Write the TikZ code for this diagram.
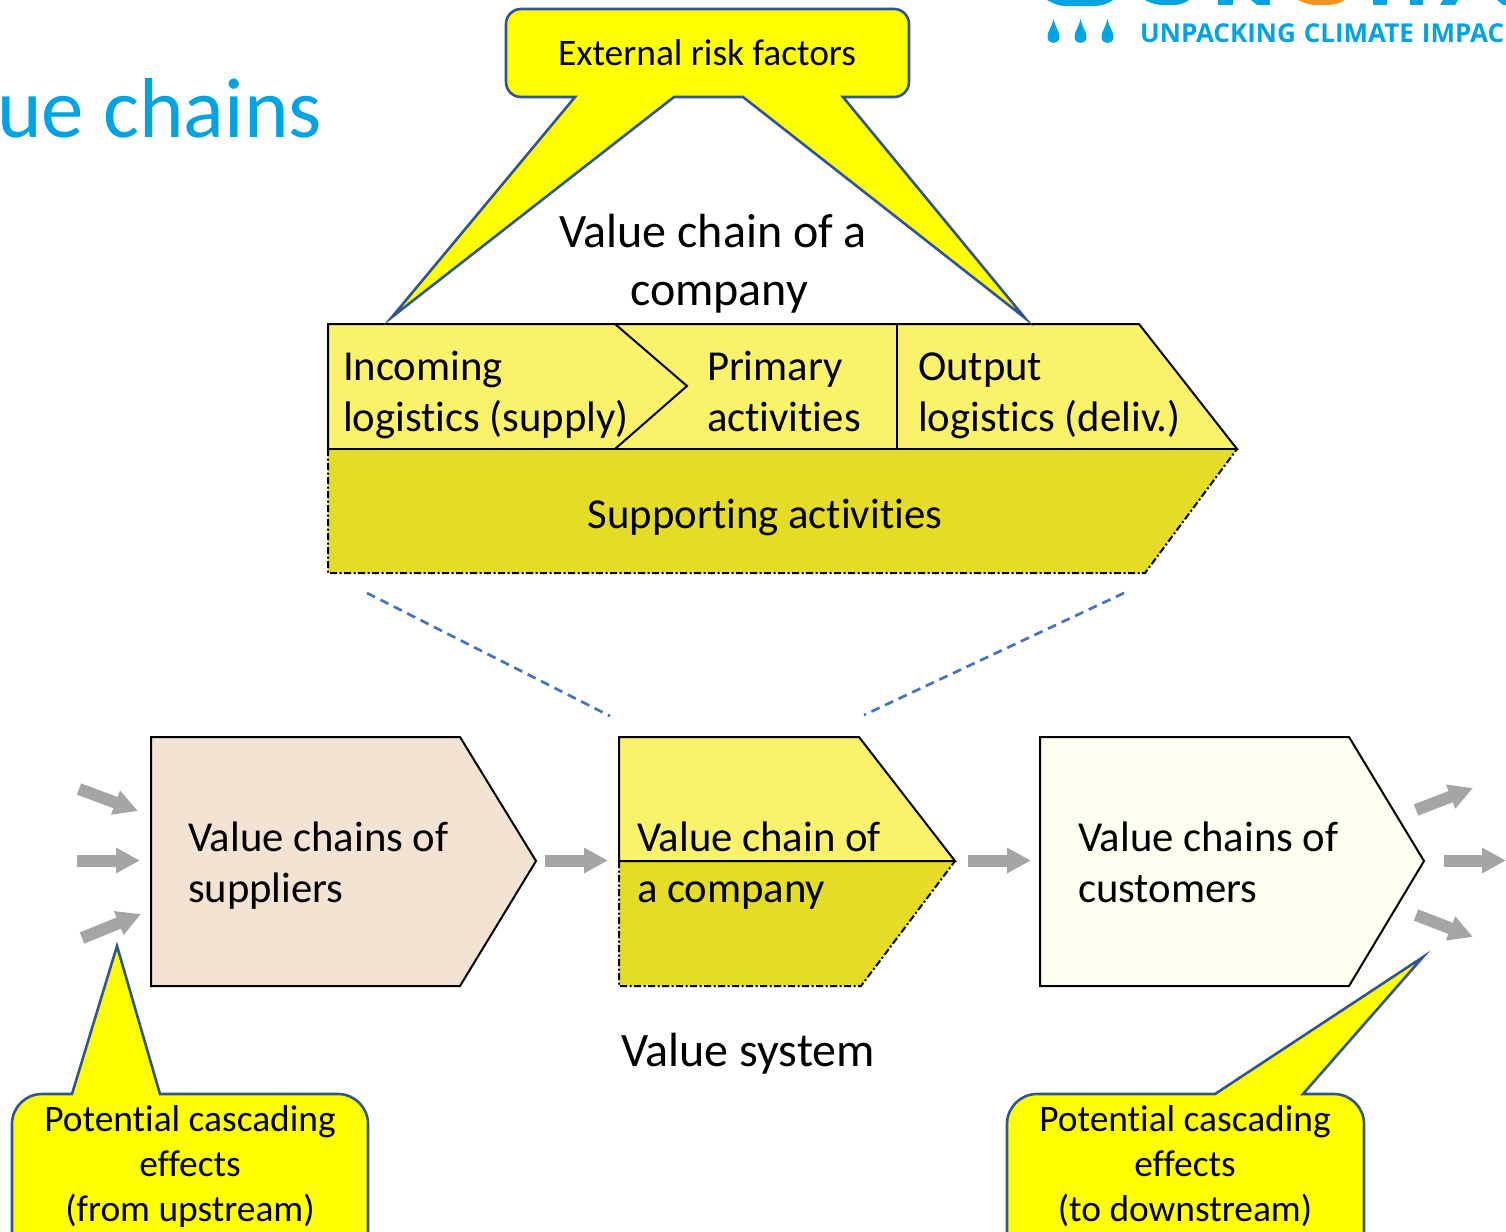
\documentclass[tikz,border=0pt]{standalone}
\usepackage{fontspec}
\setmainfont[Ligatures=NoCommon]{Carlito}
\newfontfamily\logofont{Open Sans}
\usetikzlibrary{arrows.meta}
\definecolor{lightgold}{HTML}{FBF26C}
\definecolor{darkgold}{HTML}{E4DC27}
\definecolor{sandfill}{HTML}{F3E3D3}
\definecolor{ivoryfill}{HTML}{FFFFF0}
\definecolor{calloutblue}{HTML}{2F5597}
\definecolor{calloutyellow}{RGB}{255,255,0}
\definecolor{dashblue}{HTML}{4472C4}
\definecolor{skyblue}{HTML}{00A3E4}
\definecolor{logoorange}{HTML}{F7941D}
\definecolor{arrowgray}{HTML}{A5A5A5}
\tikzset{
  x=1pt,y=-1pt,
  txt/.style={inner sep=0pt,outer sep=0pt,text=black},
  body/.style={txt,align=left,anchor=base west,font=\fontsize{42.7}{51}\selectfont},
  large/.style={txt,align=center,anchor=base,font=\fontsize{48}{58}\selectfont},
  small/.style={txt,align=center,anchor=base,font=\fontsize{37.4}{45}\selectfont},
  shapeline/.style={draw=black,line width=2pt,line join=miter},
  dashdot/.style={draw=black,line width=2pt,dash pattern=on 7pt off 2.5pt on 2pt off 2.5pt},
  callout/.style={fill=calloutyellow,draw=calloutblue,line width=2.6pt,line join=miter},
  flow/.style={draw=arrowgray,line width=12pt,-{Triangle[length=24pt,width=24pt]}},
  guide/.style={draw=dashblue,line width=2.7pt,dash pattern=on 9pt off 6pt},
  logoblue/.style={fill=skyblue,draw=none},
}
\begin{document}
\begin{tikzpicture}
\useasboundingbox (0,0) rectangle (1506,1231);
\clip (0,0) rectangle (1506,1231);
\fill[white] (0,0) rectangle (1506,1231);

% logo fragments
\fill[logoblue] (1047,0) .. controls (1056,5) and (1060,6) .. (1068,6) -- (1092,6) .. controls (1100,6) and (1106,5) .. (1113,0) -- cycle;
\fill[logoblue] (1145,0) .. controls (1152,4) and (1158,5) .. (1164,5) -- (1172,5) .. controls (1178,5) and (1184,4) .. (1189,0) -- cycle;
\fill[logoblue] (1218,0) rectangle (1233,5);
\fill[logoblue] (1251,0) -- (1257,5) -- (1270,5) -- (1270,0) -- cycle;
\fill[logoorange] (1298,0) .. controls (1305,4) and (1312,5) .. (1318,5) -- (1326,5) .. controls (1332,5) and (1339,4) .. (1345,0) -- cycle;
\fill[logoblue] (1373,0) rectangle (1387,5);
\fill[logoblue] (1410,0) rectangle (1423,5);
\fill[logoblue] (1443,0) -- (1440,5) -- (1455,5) -- (1458,0) -- cycle;
\fill[logoblue] (1497,0) -- (1503,5) -- (1506,5) -- (1506,0) -- cycle;
\foreach \dx in {1053.5,1080.5,1107.5}{
  \fill[logoblue] (\dx,19) .. controls (\dx+1,26) and (\dx+6,31) .. (\dx+6,37) .. controls (\dx+6,45) and (\dx-6,45) .. (\dx-6,37) .. controls (\dx-6,31) and (\dx-1,26) .. (\dx,19) -- cycle;
}
\node[inner sep=0pt,anchor=base west,text=skyblue,font=\logofont\bfseries\fontsize{26}{30}\selectfont] (logotext) at (1140,43) {\spaceskip=8pt UNPACKING CLIMATE IMPAC};

% title
\node[inner sep=0pt,anchor=base west,text=skyblue,font=\fontsize{85}{90}\selectfont] (title) at (-3,137) {ue chains};

% value chain of a company, upper part
\path[fill=lightgold] (328,324) -- (1139,324) -- (1237,449) -- (328,449) -- cycle;
\draw[shapeline] (328,449) -- (328,324) -- (1139,324) -- (1237,449) -- cycle;
\draw[shapeline] (615,324) -- (687,386) -- (615,449);
\draw[shapeline] (897,324) -- (897,449);
\path[fill=darkgold] (328,449) -- (1237,449) -- (1145,573) -- (328,573) -- cycle;
\draw[dashdot] (328,449) -- (328,573) -- (1145,573) -- (1237,449);
\draw[shapeline] (328,449) -- (1237,449);

\node[body] (incoming) at (343,431) {Incoming\\logistics (supply)};
\node[body] (primary) at (707,431) {Primary\\activities};
\node[body] (output) at (918,431) {Output\\logistics (deliv.)};
\node[txt,anchor=base,font=\fontsize{42.7}{51}\selectfont] (support) at (765,528) {Supporting activities};
\node[large] (vcc) at (713,305) {Value chain of a\\\hspace*{12pt}company};

% external risk callout
\path[callout] (521,9) -- (894,9) arc[start angle=-90,end angle=0,radius=15]
  -- (909,82) arc[start angle=0,end angle=90,radius=15]
  -- (843,97) -- (1025,318) -- (743,97) -- (674,97) -- (392,317) -- (575,97)
  -- (521,97) arc[start angle=90,end angle=180,radius=15]
  -- (506,24) arc[start angle=180,end angle=270,radius=15] -- cycle;
\node[small] (external) at (707,66) {External risk factors};

% zoom guides
\coordinate (guideLa) at (367,593);
\coordinate (guideLb) at (610,716);
\coordinate (guideRa) at (1124,593);
\coordinate (guideRb) at (864,715);
\draw[guide] (guideLa) -- (guideLb);
\draw[guide] (guideRa) -- (guideRb);

% value system
\draw[shapeline,fill=sandfill] (151,737) -- (460,737) -- (536,861) -- (460,986) -- (151,986) -- cycle;
\node[body] (suppliers) at (188,902) {Value chains of\\suppliers};

\path[fill=lightgold] (619,737) -- (859,737) -- (955,861) -- (619,861) -- cycle;
\path[fill=darkgold] (619,861) -- (955,861) -- (861,986) -- (619,986) -- cycle;
\draw[shapeline] (619,861) -- (619,737) -- (859,737) -- (955,861) -- cycle;
\draw[dashdot] (619,861) -- (619,986) -- (861,986) -- (955,861);
\node[body] (company) at (637,902) {Value chain of\\a company};

\draw[shapeline,fill=ivoryfill] (1040,737) -- (1349,737) -- (1424,861) -- (1349,986) -- (1040,986) -- cycle;
\node[body] (customers) at (1078,902) {Value chains of\\customers};

\node[large] (system) at (748,1066) {Value system};

% flow arrows
\coordinate (inAa) at (79,789);   \coordinate (inAb) at (138,811);
\coordinate (inBa) at (77,860.5); \coordinate (inBb) at (140,860.5);
\coordinate (inCa) at (82,938);   \coordinate (inCb) at (141,914);
\coordinate (outAa) at (1416,810); \coordinate (outAb) at (1473,788);
\coordinate (outBa) at (1444,860.5); \coordinate (outBb) at (1506,860.5);
\coordinate (outCa) at (1416,915); \coordinate (outCb) at (1473,937);
\draw[flow] (inAa) -- (inAb);
\draw[flow] (inBa) -- (inBb);
\draw[flow] (inCa) -- (inCb);
\draw[flow] (outAa) -- (outAb);
\draw[flow] (outBa) -- (outBb);
\draw[flow] (outCa) -- (outCb);
\draw[flow] (545,860.5) -- (608,860.5);
\draw[flow] (968,860.5) -- (1031,860.5);

% cascading callouts
\path[callout] (42,1094) -- (72,1094) -- (117,946) -- (160,1094) -- (338,1094)
  arc[start angle=-90,end angle=0,radius=30] -- (368,1260) -- (12,1260) -- (12,1124)
  arc[start angle=180,end angle=270,radius=30] -- cycle;
\node[small] (upstream) at (190,1221) {Potential cascading\\effects\\(from upstream)};

\path[callout] (1037,1094) -- (1215,1094) -- (1423,957) -- (1303,1094) -- (1334,1094)
  arc[start angle=-90,end angle=0,radius=30] -- (1364,1260) -- (1007,1260) -- (1007,1124)
  arc[start angle=180,end angle=270,radius=30] -- cycle;
\node[small] (downstream) at (1185,1221) {Potential cascading\\effects\\(to downstream)};
\end{tikzpicture}
\end{document}
